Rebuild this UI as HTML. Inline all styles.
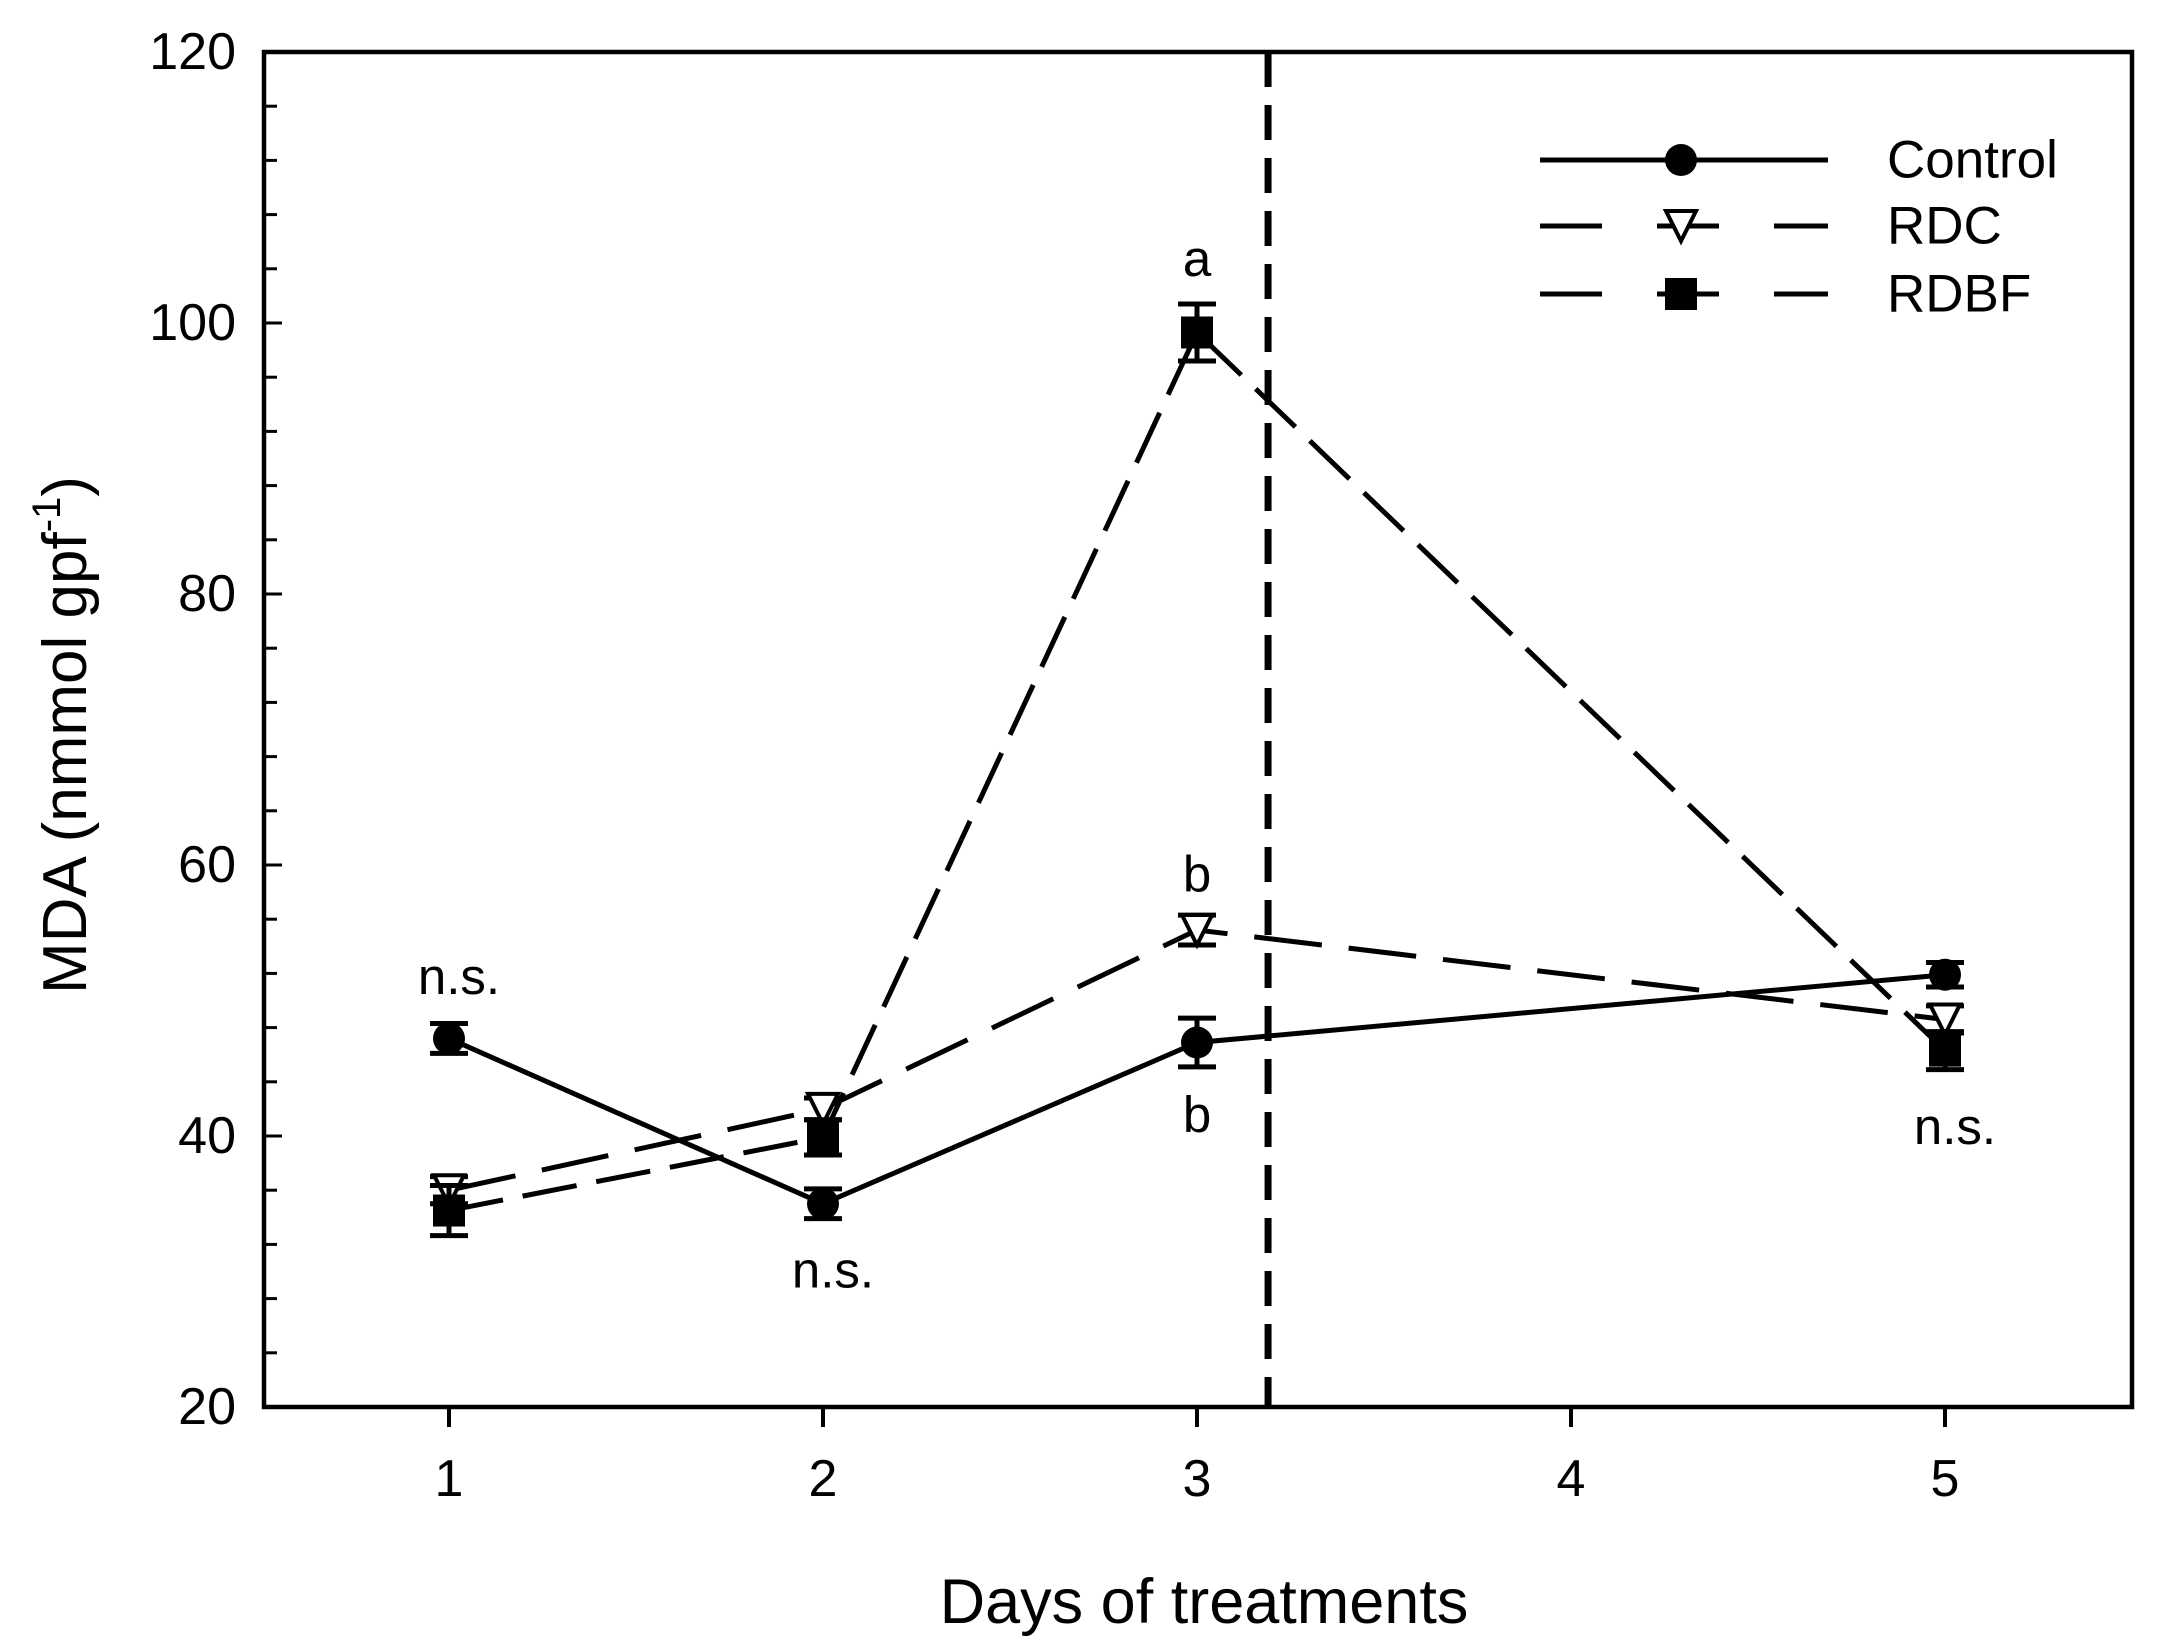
<!DOCTYPE html>
<html><head><meta charset="utf-8"><style>
html,body{margin:0;padding:0;background:#fff}
svg{display:block}
text{font-family:"Liberation Sans",sans-serif;fill:#000}
</style></head><body>
<svg id="chart" width="2164" height="1644" viewBox="0 0 2164 1644" xmlns="http://www.w3.org/2000/svg">
<g id="axes"></g>
<g id="marks"></g>
<g id="legend"></g>
</svg>
<script>
const days = [1, 2, 3, 5];
const controlVals = [47.2, 35.0, 46.9, 51.9];
const controlErr = [1.1, 1.1, 1.8, 0.9];
const rdcVals = [36.0, 42.0, 55.2, 48.6];
const rdcErr = [1.0, 0.8, 1.1, 1.0];
const rdbfVals = [34.5, 39.9, 99.3, 46.3];
const rdbfErr = [1.85, 1.3, 2.1, 1.4];
const yTicks = [20, 40, 60, 80, 100, 120];
const xTicks = [1, 2, 3, 4, 5];
const dividerDay = 3.19;
const annotations = [
  {day: 1, val: 47.2, text: 'n.s.', dy: -62},
  {day: 2, val: 35.0, text: 'n.s.', dy: 66},
  {day: 3, val: 99.3, text: 'a', dy: -74},
  {day: 3, val: 55.2, text: 'b', dy: -56},
  {day: 3, val: 46.9, text: 'b', dy: 72},
  {day: 5, val: 46.3, text: 'n.s.', dy: 76}
];

const NS = 'http://www.w3.org/2000/svg';
const L = 264, R = 2132, T = 52, B = 1407;
const x = d => 449 + (d - 1) * 374;
const y = v => B - (v - 20) * (B - T) / 100;

function mk(tag, attrs, parent, text) {
  const e = document.createElementNS(NS, tag);
  for (const k in attrs) e.setAttribute(k, attrs[k]);
  if (text !== undefined) e.textContent = text;
  parent.appendChild(e);
  return e;
}
const axes = document.getElementById('axes');
const marks = document.getElementById('marks');
const legend = document.getElementById('legend');

let fr = mk('rect', {x: L, y: T, width: R - L, height: B - T, fill: 'none', stroke: '#000', 'stroke-width': 4.5}, axes);



for (let v = 20; v <= 120; v += 4) {
  const major = (v % 20 === 0);
  const t = mk('line', {x1: L, x2: L + (major ? 18 : 13), y1: y(v), y2: y(v), stroke: '#000', 'stroke-width': 3}, axes);
  
  
}
yTicks.forEach(v => {
  const t = mk('text', {x: 236, y: y(v), 'font-size': 52, 'text-anchor': 'end', 'dominant-baseline': 'central'}, axes, String(v));
  
  
});
xTicks.forEach(d => {
  const t = mk('line', {x1: x(d), x2: x(d), y1: B, y2: B + 20, stroke: '#000', 'stroke-width': 4}, axes);
  
  
  const l = mk('text', {x: x(d), y: B + 72, 'font-size': 52, 'text-anchor': 'middle', 'dominant-baseline': 'central'}, axes, String(d));
  
  
});
let xt = mk('text', {x: 1204, y: 1602, 'font-size': 63, 'text-anchor': 'middle', 'dominant-baseline': 'central'}, axes, 'Days of treatments');


let yt = mk('text', {x: 0, y: 0, 'font-size': 62, 'text-anchor': 'middle', transform: 'translate(86,735) rotate(-90)'}, axes);


mk('tspan', {}, yt, 'MDA (nmmol gpf');
mk('tspan', {dy: -26, 'font-size': 40}, yt, '-1');
mk('tspan', {dy: 26}, yt, ')');

let dv = mk('line', {x1: x(dividerDay), x2: x(dividerDay), y1: T, y2: B, stroke: '#000', 'stroke-width': 7, 'stroke-dasharray': '35,18'}, marks);



function marker(type, cx, cy, parent, name) {
  let m;
  if (type === 'circle') m = mk('circle', {cx, cy, r: 16, fill: '#000'}, parent);
  else if (type === 'square') m = mk('rect', {x: cx - 16, y: cy - 16, width: 32, height: 32, fill: '#000'}, parent);
  else m = mk('polygon', {points: `${cx-15},${cy-15} ${cx+15},${cy-15} ${cx},${cy+15}`, fill: '#fff', stroke: '#000', 'stroke-width': 4}, parent);
  
  
  return m;
}

const series = [
  {name: 'control', vals: controlVals, err: controlErr, dash: 'none', mark: 'circle'},
  {name: 'rdc', vals: rdcVals, err: rdcErr, dash: '68,27', mark: 'tri'},
  {name: 'rdbf', vals: rdbfVals, err: rdbfErr, dash: '55,20', mark: 'square'}
];
series.forEach(s => {
  const g = mk('g', {}, marks);
  
  
  const pts = days.map((d, i) => x(d) + ',' + y(s.vals[i])).join(' ');
  const pl = mk('polyline', {points: pts, fill: 'none', stroke: '#000', 'stroke-width': 5, 'stroke-dasharray': s.dash}, g);
  
  
  days.forEach((d, i) => {
    const cx = x(d), y1 = y(s.vals[i] + s.err[i]), y2 = y(s.vals[i] - s.err[i]);
    const eb = mk('path', {d: `M${cx-19},${y1}H${cx+19}M${cx},${y1}V${y2}M${cx-19},${y2}H${cx+19}`, stroke: '#000', 'stroke-width': 5, fill: 'none'}, g);
    
    
    marker(s.mark, cx, y(s.vals[i]), g, s.name + '-point');
  });
});

annotations.forEach(a => {
  const t = mk('text', {x: x(a.day) + (a.text === 'n.s.' ? 10 : 0), y: y(a.val) + a.dy, 'font-size': 51, 'text-anchor': 'middle', 'dominant-baseline': 'central'}, marks, a.text);
  
  
});

const legItems = [['Control', 'none', 'circle', 160], ['RDC', '68,27', 'tri', 226], ['RDBF', '55,20', 'square', 294]];
legItems.forEach(it => {
  const g = mk('g', {}, legend);
  
  
  const ln = mk('line', {x1: 1540, x2: 1828, y1: it[3], y2: it[3], stroke: '#000', 'stroke-width': 5, 'stroke-dasharray': it[1] === 'none' ? 'none' : '62,55'}, g);
  
  
  marker(it[2], 1681, it[3], g, 'legend-marker');
  const t = mk('text', {x: 1887, y: it[3], 'font-size': 53, 'dominant-baseline': 'central'}, g, it[0]);
  
  
});
</script>
</body></html>
